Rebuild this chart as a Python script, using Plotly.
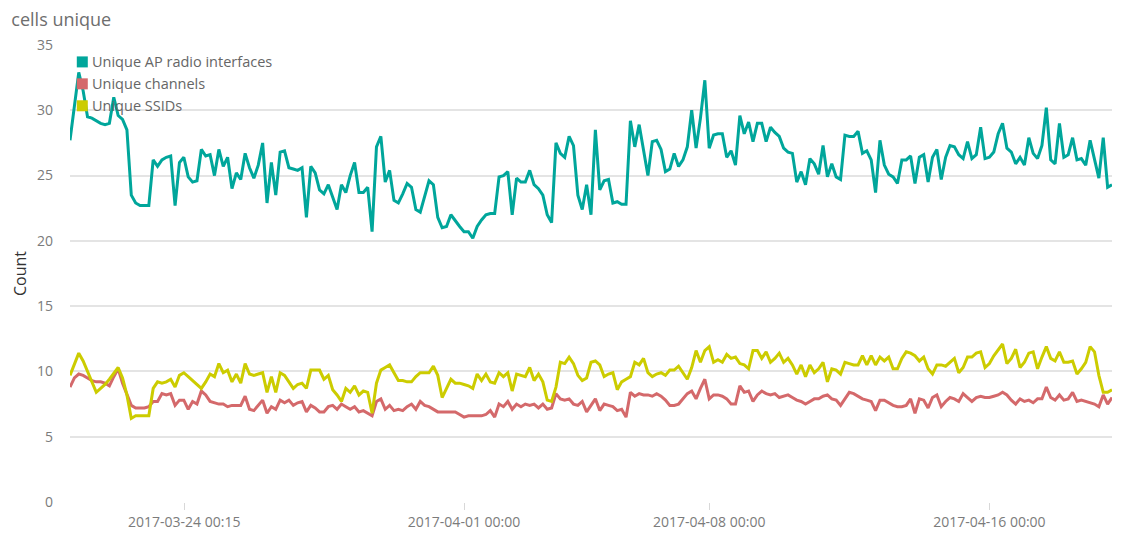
import pandas as pd
import plotly.graph_objects as go

# 3-hour buckets, first bucket 2017-03-20 18:00
start = "2017-03-20 18:00"

ap_radio = [
    27.7, 30.5, 32.9, 31.5, 29.5, 29.4, 29.2, 29.0, 28.9, 29.0,
    31.0, 29.6, 29.3, 28.5, 23.5, 22.9, 22.7, 22.7, 22.7, 26.2,
    25.7, 26.2, 26.4, 26.5, 22.7, 26.0, 26.4, 24.9, 24.5, 24.6,
    27.0, 26.5, 26.6, 25.0, 27.0, 25.7, 26.4, 24.0, 25.2, 24.7,
    26.7, 25.6, 24.8, 25.8, 27.5, 22.9, 26.0, 23.5, 26.8, 26.9,
    25.6, 25.5, 25.4, 25.6, 21.8, 25.7, 25.2, 23.9, 23.6, 24.3,
    23.3, 22.4, 24.3, 23.7, 25.0, 26.0, 23.7, 23.7, 24.1, 20.7,
    27.2, 28.0, 24.5, 25.4, 23.1, 22.9, 23.6, 24.4, 24.1, 22.4,
    22.2, 23.5, 24.6, 24.3, 21.8, 21.0, 21.1, 22.0, 21.5, 21.1,
    20.7, 20.7, 20.2, 21.1, 21.6, 22.0, 22.1, 22.1, 24.9, 25.0,
    25.3, 22.0, 24.8, 24.5, 24.5, 25.4, 24.3, 24.0, 23.5, 22.0,
    21.4, 27.5, 26.7, 26.4, 28.0, 27.3, 23.5, 22.4, 24.3, 22.0,
    28.5, 23.9, 24.6, 24.7, 22.9, 23.0, 22.8, 22.8, 29.2, 27.2,
    28.9, 27.0, 25.0, 27.6, 27.7, 27.0, 25.3, 25.5, 26.7, 25.7,
    26.2, 27.2, 30.0, 27.1, 29.4, 32.3, 27.1, 28.1, 28.2, 28.2,
    26.4, 26.9, 25.8, 29.6, 28.2, 29.1, 27.6, 29.0, 29.0, 27.6,
    28.7, 28.3, 28.0, 27.1, 26.8, 26.7, 24.5, 25.3, 24.3, 26.3,
    25.9, 25.1, 27.3, 24.9, 25.9, 24.9, 24.7, 28.1, 28.0, 28.0,
    28.4, 26.7, 26.9, 26.2, 23.7, 27.7, 25.8, 25.1, 24.9, 24.4,
    26.2, 26.2, 26.5, 24.4, 26.4, 26.6, 24.5, 26.4, 27.0, 24.7,
    26.4, 27.3, 27.2, 26.6, 26.3, 27.6, 26.3, 26.6, 28.7, 26.3,
    26.4, 26.8, 28.2, 29.0, 27.1, 26.8, 25.9, 26.4, 25.8, 27.9,
    26.7, 26.3, 27.3, 30.2, 26.2, 25.9, 29.0, 26.4, 26.6, 27.9,
    26.2, 26.3, 25.8, 27.7, 26.2, 24.8, 27.9, 24.1, 24.3,
]

channels = [
    8.8, 9.5, 9.8, 9.7, 9.5, 9.3, 9.2, 9.2, 9.1, 8.9,
    9.6, 10.2, 9.1, 8.3, 7.4, 7.2, 7.2, 7.2, 7.3, 7.7,
    7.7, 8.3, 8.2, 8.3, 7.4, 7.8, 7.8, 7.1, 7.7, 7.5,
    8.5, 8.2, 7.7, 7.6, 7.5, 7.5, 7.3, 7.4, 7.4, 7.4,
    8.1, 7.1, 7.0, 7.4, 7.8, 6.8, 7.3, 7.1, 7.8, 7.6,
    7.8, 7.4, 7.6, 7.7, 6.9, 7.4, 7.2, 6.9, 6.9, 7.3,
    7.4, 7.1, 7.5, 7.3, 7.1, 7.3, 6.9, 7.0, 6.8, 6.6,
    7.7, 7.9, 7.1, 7.4, 7.0, 7.1, 7.0, 7.3, 7.5, 7.1,
    7.7, 7.4, 7.3, 7.1, 6.9, 6.9, 6.9, 6.9, 6.9, 6.7,
    6.5, 6.6, 6.6, 6.6, 6.6, 6.7, 7.0, 6.5, 7.5, 7.3,
    7.7, 7.1, 7.5, 7.3, 7.5, 7.4, 7.5, 7.2, 7.5, 7.1,
    7.2, 8.3, 7.9, 7.8, 7.9, 7.5, 7.4, 7.7, 6.9, 7.4,
    7.9, 7.0, 7.5, 7.4, 7.3, 7.0, 7.1, 6.5, 8.4, 8.1,
    8.3, 8.2, 8.2, 8.1, 8.3, 8.1, 7.8, 7.4, 7.4, 7.5,
    7.9, 8.3, 8.5, 7.9, 8.7, 9.4, 7.9, 8.2, 8.2, 8.1,
    7.9, 7.5, 7.5, 8.9, 8.4, 8.5, 7.7, 8.2, 8.5, 8.3,
    8.2, 8.3, 8.0, 8.1, 8.2, 8.0, 7.8, 7.7, 7.5, 7.7,
    7.9, 7.9, 8.1, 8.2, 7.9, 7.8, 7.4, 7.9, 8.4, 8.3,
    8.1, 7.9, 7.8, 7.7, 7.0, 7.8, 7.8, 7.6, 7.4, 7.3,
    7.3, 7.4, 7.9, 6.8, 7.9, 7.8, 7.2, 8.0, 8.2, 7.3,
    7.7, 8.0, 7.9, 7.7, 8.3, 8.0, 7.7, 8.0, 8.1, 8.0,
    8.0, 8.1, 8.2, 8.4, 8.2, 7.8, 7.5, 7.9, 7.7, 7.8,
    7.6, 7.9, 7.9, 8.8, 8.0, 7.8, 8.2, 7.8, 7.9, 8.4,
    7.7, 7.8, 7.7, 7.6, 7.5, 7.3, 8.2, 7.5, 8.0,
]

ssids = [
    9.7, 10.5, 11.4, 10.8, 10.0, 9.2, 8.4, 8.7, 9.0, 9.4,
    9.9, 10.3, 9.5, 8.2, 6.4, 6.6, 6.6, 6.6, 6.6, 8.7,
    9.2, 9.1, 9.2, 9.4, 8.8, 9.7, 9.9, 9.6, 9.3, 9.0,
    8.7, 9.2, 9.8, 9.6, 10.6, 9.9, 10.1, 9.2, 9.8, 9.1,
    10.6, 9.8, 9.7, 9.8, 9.9, 8.4, 9.6, 8.4, 9.9, 9.7,
    9.2, 8.7, 9.0, 9.1, 8.7, 10.1, 10.1, 10.1, 9.4, 9.7,
    8.6, 8.2, 7.7, 8.7, 8.4, 8.9, 8.2, 8.5, 8.4, 6.8,
    9.1, 10.1, 10.3, 10.5, 9.9, 9.3, 9.3, 9.2, 9.2, 9.6,
    9.9, 9.9, 9.9, 10.4, 9.7, 8.0, 8.7, 9.4, 9.1, 9.1,
    9.0, 8.9, 8.7, 9.8, 9.3, 9.8, 9.2, 9.1, 9.9, 9.6,
    9.9, 8.5, 9.8, 9.7, 9.6, 10.3, 9.3, 9.8, 9.2, 7.8,
    7.7, 8.8, 10.7, 10.6, 11.1, 10.6, 9.7, 9.3, 9.5, 10.7,
    10.8, 10.5, 9.6, 9.8, 9.9, 8.6, 9.2, 9.4, 9.6, 10.7,
    10.5, 11.0, 9.9, 9.6, 9.8, 9.9, 9.7, 10.1, 10.1, 10.4,
    9.9, 9.4, 10.3, 11.6, 10.7, 11.6, 11.9, 10.7, 10.9, 10.7,
    11.3, 11.0, 11.1, 10.6, 10.5, 10.2, 11.6, 11.6, 11.0, 11.5,
    10.7, 11.0, 11.4, 10.7, 11.0, 10.5, 9.8, 10.5, 9.6, 10.5,
    9.9, 10.2, 10.7, 9.2, 10.2, 10.1, 9.8, 10.7, 10.6, 10.5,
    10.5, 11.2, 10.5, 11.2, 10.5, 11.1, 10.8, 11.1, 10.2, 10.2,
    11.0, 11.5, 11.4, 11.2, 10.8, 11.1, 10.2, 9.8, 10.5, 10.5,
    10.4, 10.7, 11.0, 9.9, 10.3, 11.1, 11.1, 11.4, 11.5, 10.3,
    10.6, 11.2, 11.7, 12.1, 10.6, 11.0, 11.7, 10.3, 10.7, 11.4,
    11.5, 10.2, 11.1, 11.9, 11.0, 10.8, 11.5, 10.7, 10.7, 10.8,
    9.8, 10.2, 10.7, 11.9, 11.5, 9.7, 8.4, 8.4, 8.6,
]

series_names = ["Unique AP radio interfaces", "Unique channels", "Unique SSIDs"]
series_colors = ["#00a69b", "#d4696b", "#cccc00"]

tick_dates = ["2017-03-24 00:15", "2017-04-01 00:00", "2017-04-08 00:00", "2017-04-16 00:00"]

times = pd.date_range(start, periods=len(ap_radio), freq="3h")

fig = go.Figure()
for name, vals, color in zip(series_names, [ap_radio, channels, ssids], series_colors):
    fig.add_trace(go.Scatter(
        x=times, y=vals, mode="lines", name=name,
        line=dict(color=color, width=3), hoverinfo="skip",
    ))

# kibana-style legend: small squares with the label right next to them
legend_y = [0.963, 0.915, 0.867]
for name, color, ly in zip(series_names, series_colors, legend_y):
    fig.add_shape(type="rect", xref="paper", yref="paper",
                  xsizemode="pixel", ysizemode="pixel",
                  xanchor=0.0118, yanchor=ly, x0=-5.5, x1=5.5, y0=-5.5, y1=5.5,
                  fillcolor=color, line_width=0)
    fig.add_annotation(text=name, xref="paper", yref="paper", x=0.0192, y=ly,
                       xanchor="left", yanchor="middle", showarrow=False,
                       font=dict(size=14.5, color="#666666"))

fig.update_layout(
    width=1116, height=541,
    margin=dict(l=58, r=12, t=37, b=47),
    paper_bgcolor="white", plot_bgcolor="white",
    font=dict(family="Open Sans, sans-serif", color="#7b7b7b", size=14),
    title=dict(text="cells unique", xref="container", x=0.003, xanchor="left",
               yref="container", y=0.978, yanchor="middle",
               font=dict(size=18, color="#6e6e6e")),
    showlegend=False,
)
fig.update_xaxes(
    range=[times[0], times[-1]],
    tickvals=pd.to_datetime(tick_dates), ticktext=tick_dates,
    showgrid=False, zeroline=False, showline=False,
    ticks="outside", ticklen=7, tickcolor="#d8d8d8",
    tickfont=dict(size=14, color="#7b7b7b"),
)
fig.update_yaxes(
    range=[0, 35], tickvals=[0, 5, 10, 15, 20, 25, 30, 35],
    showgrid=True, gridcolor="#e4e4e4", gridwidth=1.5, zeroline=False,
    ticklabelstandoff=16,
    tickfont=dict(size=14, color="#7b7b7b"),
    title=dict(text="Count", standoff=6, font=dict(size=16, color="#333333")),
)

fig.write_html("out.html")
